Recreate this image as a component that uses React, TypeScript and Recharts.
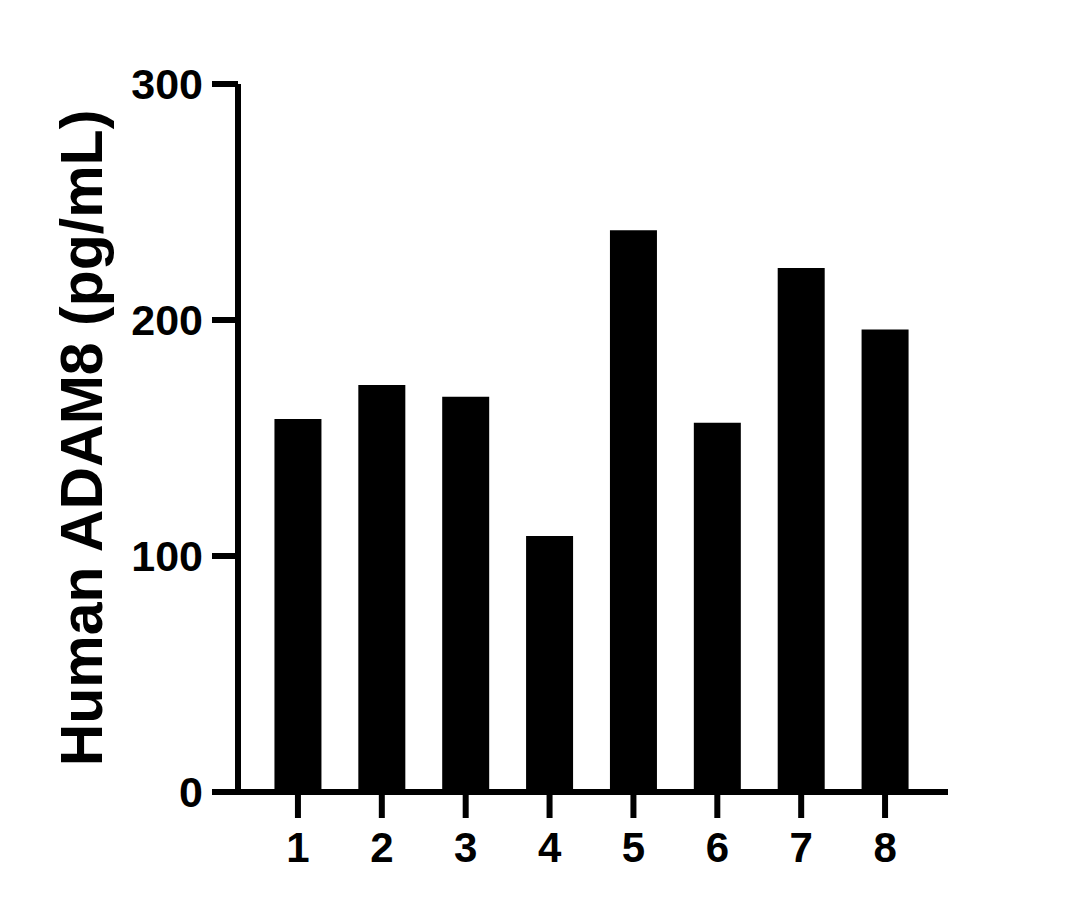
import React from 'react';
import { BarChart, Bar, XAxis, YAxis } from 'recharts';

const categories = ['1', '2', '3', '4', '5', '6', '7', '8'];
const values = [158, 172.5, 167.5, 108.5, 238, 156.5, 222, 196];
const yTicks = [0, 100, 200, 300];
const yLabel = 'Human ADAM8 (pg/mL)';

const data = categories.map((c, i) => ({ name: c, value: values[i] }));

const FONT = '"Liberation Sans", Arial, sans-serif';

export default function App() {
  return (
    <div style={{ position: 'absolute', left: 0, top: 0, width: 1080, height: 910, background: '#fff' }}>
      <BarChart
        width={1080}
        height={910}
        data={data}
        margin={{ top: 84, right: 132, left: 0, bottom: 0 }}
        barCategoryGap="22%"
      >
        <XAxis
          dataKey="name"
          height={118}
          padding={{ left: 18, right: 21 }}
          axisLine={{ stroke: '#000', strokeWidth: 6 }}
          tickLine={{ stroke: '#000', strokeWidth: 6 }}
          tickSize={26}
          tickMargin={14}
          tick={{ fill: '#000', fontSize: 42, fontWeight: 'bold', fontFamily: FONT }}
          interval={0}
        />
        <YAxis
          width={238}
          domain={[0, 300]}
          ticks={yTicks}
          axisLine={{ stroke: '#000', strokeWidth: 6 }}
          tickLine={{ stroke: '#000', strokeWidth: 6 }}
          tickSize={26}
          tickMargin={9}
          tick={{ fill: '#000', fontSize: 43, fontWeight: 'bold', fontFamily: FONT }}
          label={{
            value: yLabel,
            angle: -90,
            position: 'center',
            dx: -38,
            style: { fill: '#000', fontSize: 59, fontWeight: 'bold', fontFamily: FONT },
          }}
        />
        <Bar dataKey="value" fill="#000" isAnimationActive={false} />
      </BarChart>
    </div>
  );
}
